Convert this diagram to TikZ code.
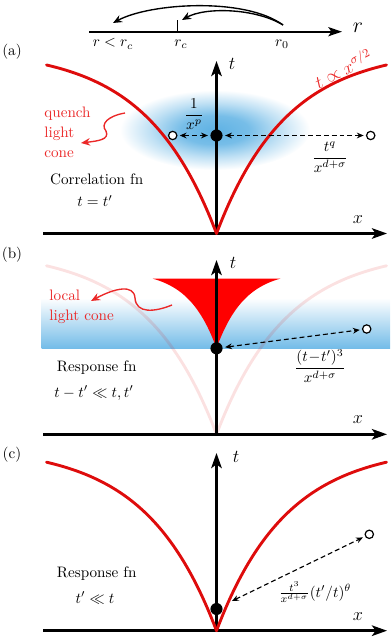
\documentclass[tikz,border=0pt]{standalone}
\usetikzlibrary{arrows.meta,calc}
\definecolor{cone}{RGB}{222,12,12}
\definecolor{conetext}{RGB}{235,40,40}
\definecolor{blobc}{RGB}{95,178,228}
\definecolor{bandc}{RGB}{115,188,232}
\pgfdeclareradialshading{blobshade}{\pgfpoint{0bp}{0bp}}{color(0bp)=(blobc); color(9bp)=(blobc!85!white); color(17bp)=(blobc!40!white); color(25bp)=(white); color(50bp)=(white)}
\begin{document}
\begin{tikzpicture}[x=0.66pt,y=-0.66pt,
  axis/.style={line width=1.6pt, -{Stealth[length=10pt,width=7pt,inset=2.5pt]}},
  conecurve/.style={line width=1.9pt, cone, line cap=round},
  dasharrow/.style={line width=0.75pt, dash pattern=on 3.2pt off 2pt, {Stealth[length=4.5pt,width=3.8pt]}-{Stealth[length=4.5pt,width=3.8pt]}, shorten <=1.5pt, shorten >=1.5pt},
  dotnode/.style={circle, fill=black, inner sep=0pt, minimum size=8pt},
  ocirc/.style={circle, draw=black, line width=0.8pt, fill=white, inner sep=0pt, minimum size=5.5pt},
  squig/.style={conetext, line width=0.9pt, -{Stealth[length=6pt,width=5pt]}},
  toparrow/.style={line width=0.9pt, -{Stealth[length=6pt,width=5pt]}},
  redlbl/.style={text=conetext, align=left, anchor=west},
]
\useasboundingbox (0,0) rectangle (390,640);

% ---------- top r axis ----------
\coordinate (rL) at (89,31.7);
\coordinate (rR) at (342,31.7);
\draw[line width=1.3pt, -{Stealth[length=9pt,width=6pt,inset=2pt]}] (rL) -- (rR);
\coordinate (tickB) at (177.3,31.7);
\coordinate (tickT) at (177.3,20);
\draw[line width=0.9pt] (tickB) -- (tickT);
\node (lr) at (358,28) {\Large $r$};
\node (lrlt) at (113,44) {$r<r_c$};
\node (lrc) at (181,44) {$r_c$};
\node (lr0) at (282,44) {$r_0$};
\coordinate (arS) at (283,25);
\coordinate (arE1) at (113,23);
\coordinate (arE2) at (182,20);
\draw[toparrow] (arS) .. controls (245,-3) and (150,3) .. (arE1);
\draw[toparrow] (arS) .. controls (255,8) and (205,7) .. (arE2);

% ---------- panel (a) ----------
\node (pa) at (12,52) {(a)};
\shade[shading=blobshade] (215,130) ellipse (95 and 40);
\coordinate (aO) at (216.5,233.5);
\coordinate (aXL) at (43,233.5);
\coordinate (aXR) at (387,233.5);
\coordinate (aT) at (216.5,61);
\draw[axis] (aXL) -- (aXR);
\draw[axis] (aO) -- (aT);
\draw[conecurve] plot[domain=0:170,samples=60] ({216.5+\x},{233.5-184.8*(1-exp(-\x/70))});
\draw[conecurve] plot[domain=0:170,samples=60] ({216.5-\x},{233.5-184.8*(1-exp(-\x/70))});
\node (atl) at (232,64) {\large $t$};
\node (axl) at (358,220) {\large $x$};
\node[dotnode] (dA) at (216.5,135.5) {};
\node[ocirc] (oAL) at (172.7,135.5) {};
\node[ocirc] (oAR) at (370.7,135.5) {};
\draw[dasharrow] (oAL) -- (dA);
\draw[dasharrow] (dA) -- (oAR);
\node (lA1) at (194,114) {$\displaystyle\frac{1}{x^p}$};
\node (lA2) at (330,157) {$\displaystyle\frac{t^q}{x^{d+\sigma}}$};
\node[redlbl] (qlc) at (39,132) {quench\\[1.2pt]light\\[1.2pt]cone};
\coordinate (sqA1) at (125,113);
\coordinate (sqA2) at (81,143);
\draw[squig] (sqA1) .. controls (108,116) and (100,124) .. (106,131) .. controls (110,140) and (97,141) .. (sqA2);
\node (cfA) at (96.7,179) {Correlation fn};
\node (ceqA) at (95,201) {$t=t'$};
\node[text=conetext, rotate=27] (propA) at (343,68) {\large $t\propto x^{\sigma/2}$};

% ---------- panel (b) ----------
\node (pb) at (12,255) {(b)};
\shade[top color=white, bottom color=bandc] (41.5,298) rectangle (390,348.3);
\draw[conecurve, opacity=0.12] plot[domain=0:170,samples=60] ({216.5+\x},{434.3-184.8*(1-exp(-\x/70))});
\draw[conecurve, opacity=0.12] plot[domain=0:170,samples=60] ({216.5-\x},{434.3-184.8*(1-exp(-\x/70))});
\fill[red] plot[domain=0:64,samples=40] ({216.5+\x},{348.3-77.6*(1-exp(-\x/28))}) -- plot[domain=64:0,samples=40] ({216.5-\x},{348.3-77.6*(1-exp(-\x/28))}) -- cycle;
\coordinate (bO) at (216.5,434.3);
\coordinate (bXL) at (43,434.3);
\coordinate (bXR) at (387,434.3);
\coordinate (bT) at (216.5,260);
\draw[axis] (bXL) -- (bXR);
\draw[axis] (bO) -- (bT);
\node (btl) at (233,263) {\large $t$};
\node (bxl) at (358,420) {\large $x$};
\node[dotnode] (dB) at (216.5,348.3) {};
\node[ocirc] (oB) at (366.7,329) {};
\draw[dasharrow] (dB) -- (oB);
\node (lB) at (320,366) {$\displaystyle\frac{(t\!-\!t')^3}{x^{d+\sigma}}$};
\node[redlbl] (llc) at (44,307) {local\\[1pt]light cone};
\coordinate (sqB1) at (172,305);
\coordinate (sqB2) at (91,301);
\draw[squig] (sqB1) .. controls (155,312) and (136,314) .. (135,298) .. controls (134,284) and (115,288) .. (sqB2);
\node (rfB) at (96.7,367.7) {Response fn};
\node (reqB) at (94,393) {$t-t'\ll t,t'$};

% ---------- panel (c) ----------
\node (pc) at (12,455) {(c)};
\coordinate (cO) at (216.5,630.7);
\coordinate (cXL) at (43,630.7);
\coordinate (cXR) at (387,630.7);
\coordinate (cT) at (216.5,453);
\draw[axis] (cXL) -- (cXR);
\draw[axis] (cO) -- (cT);
\draw[conecurve] plot[domain=0:170,samples=60] ({216.5+\x},{630.7-184.8*(1-exp(-\x/70))});
\draw[conecurve] plot[domain=0:170,samples=60] ({216.5-\x},{630.7-184.8*(1-exp(-\x/70))});
\node (ctl) at (236,457) {\large $t$};
\node (cxl) at (358,617) {\large $x$};
\node[dotnode] (dC) at (216.5,609) {};
\node[ocirc] (oC) at (369.3,534.3) {};
\coordinate (cC) at (232,601);
\draw[dasharrow, shorten <=0pt] (cC) -- (oC);
\node (lC) at (315,592) {$\frac{t^3}{x^{d+\sigma}}(t'/t)^\theta$};
\node (rfC) at (96.7,573.3) {Response fn};
\node (reqC) at (95,598) {$t'\ll t$};
\end{tikzpicture}
\end{document}
